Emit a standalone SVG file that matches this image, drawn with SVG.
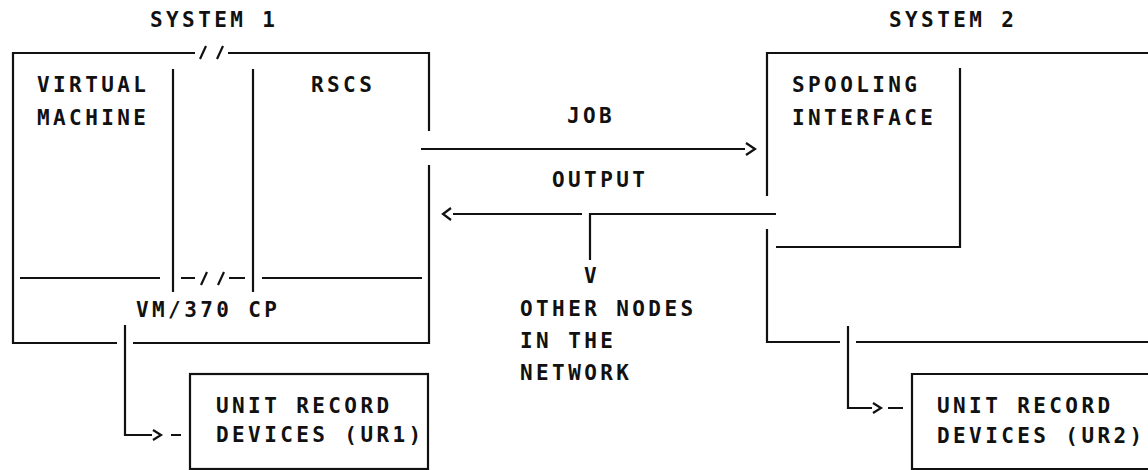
<svg xmlns="http://www.w3.org/2000/svg" width="1148" height="470" viewBox="0 0 1148 470">
<style>
text{font-family:"DejaVu Sans Mono","Liberation Mono",monospace;font-size:21px;font-weight:bold;letter-spacing:3.4px;fill:#111}
.ln{fill:none;stroke:#111;stroke-width:2.2;stroke-linecap:butt;stroke-linejoin:miter}
</style>
<rect width="1148" height="470" fill="#fff"/>
<g id="system1">
<text x="150" y="27">SYSTEM 1</text>
<path class="ln" d="M195,53 H13 V343 H117 M133,343 H429 V165 M429,131 V53 H228"/>
<path class="ln" d="M200,59 L206,46 M217,59 L223,46"/>
</g>
<g id="virtual-machine">
<text x="37" y="92">VIRTUAL</text>
<text x="37" y="125">MACHINE</text>
<path class="ln" d="M173,69 V292"/>
</g>
<g id="rscs">
<text x="311" y="92">RSCS</text>
<path class="ln" d="M253,69 V292"/>
</g>
<g id="cp">
<path class="ln" d="M20,278 H160 M181,278 H195 M229,278 H245 M262,278 H422"/>
<path class="ln" d="M201,285 L207,272 M218,285 L224,272"/>
<text x="136" y="317">VM/370 CP</text>
</g>
<g id="system2">
<text x="889" y="27">SYSTEM 2</text>
<path class="ln" d="M767,196 V53 H1148 M767,229 V342 H840 M856,342 H1148"/>
</g>
<g id="spooling-interface">
<text x="792" y="92">SPOOLING</text>
<text x="792" y="125">INTERFACE</text>
<path class="ln" d="M960,68 V247 H776"/>
</g>
<g id="ur1">
<rect class="ln" x="190" y="374" width="238" height="95"/>
<text x="216" y="413">UNIT RECORD</text>
<text x="216" y="442">DEVICES (UR1)</text>
</g>
<g id="ur2">
<path class="ln" d="M1148,374 H912 V469 H1148"/>
<text x="937" y="413">UNIT RECORD</text>
<text x="937" y="443">DEVICES (UR2)</text>
</g>
<g id="other-nodes">
<text x="520" y="316">OTHER NODES</text>
<text x="520" y="348">IN THE</text>
<text x="520" y="380">NETWORK</text>
</g>
<g id="connectors">
<path class="ln" d="M421,149 H745"/>
<path class="ln" d="M746,143 L755,149 L746,155"/>
<text x="567" y="123">JOB</text>
<path class="ln" d="M776,214 H590 V260"/>
<path class="ln" d="M582,214 H453"/>
<path class="ln" d="M451,208 L443,214 L451,220"/>
<text x="552" y="187">OUTPUT</text>
<text x="584" y="283">V</text>
<path class="ln" d="M125,325 V435 H152"/>
<path class="ln" d="M153,430 L161,435 L153,440 M171,435 H181"/>
<path class="ln" d="M848,326 V408 H872"/>
<path class="ln" d="M873,403 L881,408 L873,413 M888,408 H903"/>
</g>
</svg>
